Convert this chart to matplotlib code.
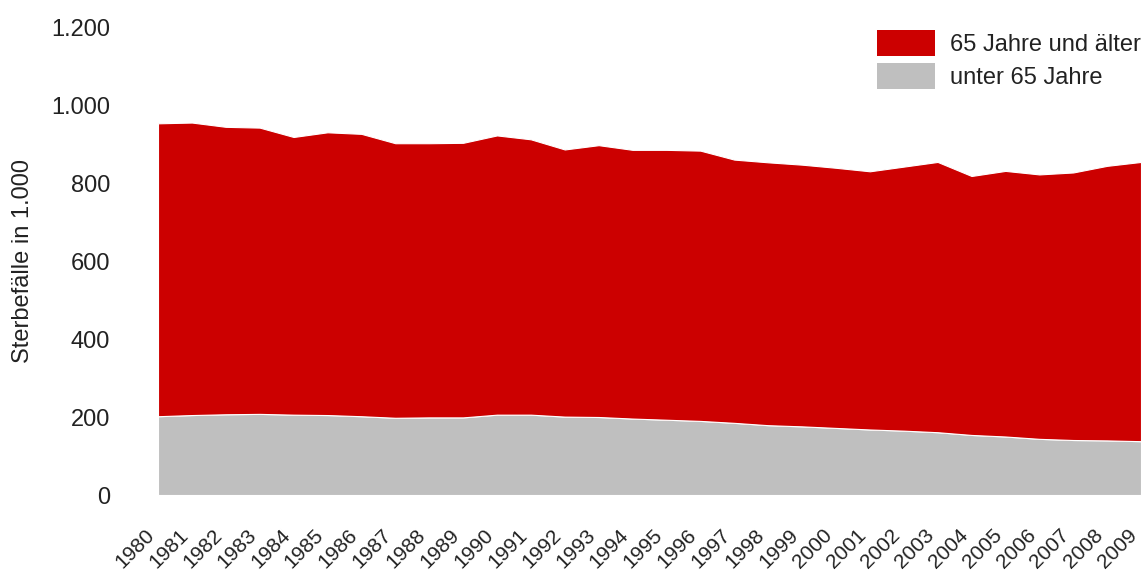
import matplotlib
matplotlib.use("Agg")
import matplotlib.pyplot as plt
from matplotlib.patches import Patch

years = list(range(1980, 2010))
total = [953, 955, 944, 942, 918, 930, 926, 902, 902, 903,
         922, 912, 886, 897, 885, 885, 883, 860, 853, 847,
         839, 830, 842, 854, 818, 831, 822, 827, 844, 854]
under65 = [202, 205, 207, 208, 206, 205, 202, 198, 199, 199,
           206, 206, 201, 200, 196, 193, 190, 185, 179, 176,
           172, 168, 165, 161, 154, 150, 144, 141, 140, 138]
over65 = [t - u for t, u in zip(total, under65)]

labels = ["65 Jahre und älter", "unter 65 Jahre"]
colors = ["#CC0000", "#BFBFBF"]
ylabel = "Sterbefälle in 1.000"
yticks = [0, 200, 400, 600, 800, 1000, 1200]
yticklabels = ["0", "200", "400", "600", "800", "1.000", "1.200"]

plt.rcParams['font.family'] = ['Liberation Sans', 'DejaVu Sans']
txt = "#222222"
fs = 17

fig = plt.figure(figsize=(11.44, 5.72), dpi=100)
ax = fig.add_axes([158/1144, 77/572, (1141-158)/1144, (495-27)/572])

ax.stackplot(years, under65, over65, colors=[colors[1], colors[0]],
             edgecolor="white", linewidth=0.8)

ax.set_xlim(1980, 2009)
ax.set_ylim(0, 1200)
ax.set_yticks(yticks)
ax.set_yticklabels(yticklabels, fontsize=fs, color=txt)
ax.set_xticks(years)
ax.set_xticklabels([str(y) for y in years], fontsize=15, color=txt,
                   rotation=45, ha="right", va="top")
ax.tick_params(axis="y", length=0, pad=34.5)
ax.tick_params(axis="x", length=0, pad=22)
for s in ax.spines.values():
    s.set_visible(False)
ax.set_ylabel(ylabel, fontsize=fs, color=txt, labelpad=12)

handles = [Patch(facecolor=colors[0], edgecolor="none"),
           Patch(facecolor=colors[1], edgecolor="none")]
leg = ax.legend(handles, labels, loc="upper right", bbox_to_anchor=(1.0, 0.994),
                frameon=False, fontsize=fs, handlelength=2.46, handleheight=1.32,
                labelspacing=0.3, handletextpad=0.64, borderaxespad=0.0,
                borderpad=0.0)
for t in leg.get_texts():
    t.set_color(txt)

fig.savefig("out.png", dpi=100)
